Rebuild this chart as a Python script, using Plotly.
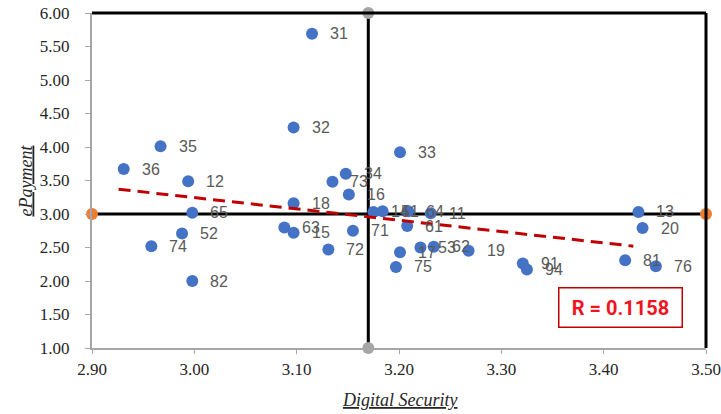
import plotly.graph_objects as go

# Scores per unit: Digital Security (x) vs ePayment (y)
unit_labels = ["31", "32", "33", "35", "36", "12", "73", "34", "16", "18",
               "65", "52", "74", "82", "63", "15", "71", "72", "14", "51",
               "64", "11", "61", "17", "75", "53", "62", "19", "91", "94",
               "81", "76", "13", "20"]
digital_security = [3.115, 3.097, 3.201, 2.967, 2.931, 2.994, 3.135, 3.148, 3.151, 3.097,
                    2.998, 2.988, 2.958, 2.998, 3.088, 3.097, 3.155, 3.131, 3.175, 3.184,
                    3.209, 3.231, 3.208, 3.201, 3.197, 3.221, 3.234, 3.268, 3.321, 3.325,
                    3.421, 3.451, 3.434, 3.438]
epayment = [5.69, 4.29, 3.92, 4.01, 3.67, 3.49, 3.48, 3.60, 3.29, 3.16,
            3.02, 2.71, 2.52, 2.00, 2.80, 2.72, 2.75, 2.47, 3.03, 3.04,
            3.04, 3.01, 2.82, 2.43, 2.21, 2.50, 2.51, 2.45, 2.26, 2.17,
            2.31, 2.22, 3.03, 2.79]

# Quadrant split (means)
mean_x = 3.17
mean_y = 3.00
x_range = [2.90, 3.50]
y_range = [1.00, 6.00]

# Linear trend end points
trend_x = [2.926, 3.429]
trend_y = [3.37, 2.52]

r_text = "R = 0.1158"

fig = go.Figure()

# Quadrant lines with end markers
fig.add_trace(go.Scatter(
    x=x_range, y=[mean_y, mean_y], mode="lines+markers",
    line=dict(color="black", width=3),
    marker=dict(color="#ED7D31", size=12),
    cliponaxis=False, hoverinfo="skip", showlegend=False))
fig.add_trace(go.Scatter(
    x=[mean_x, mean_x], y=y_range, mode="lines+markers",
    line=dict(color="black", width=3),
    marker=dict(color="#A5A5A5", size=12),
    cliponaxis=False, hoverinfo="skip", showlegend=False))

# Units
fig.add_trace(go.Scatter(
    x=digital_security, y=epayment, mode="markers",
    marker=dict(color="#4472C4", size=12),
    text=unit_labels, showlegend=False))

# Trend line
fig.add_trace(go.Scatter(
    x=trend_x, y=trend_y, mode="lines",
    line=dict(color="#C00000", width=3, dash="12px,7px"),
    hoverinfo="skip", showlegend=False))

annotations = []
for lab, xv, yv in zip(unit_labels, digital_security, epayment):
    annotations.append(dict(
        x=xv, y=yv, xref="x", yref="y", text=lab, showarrow=False,
        xanchor="left", yanchor="middle", xshift=16, yshift=0,
        font=dict(family="Liberation Sans", size=16, color="#595959")))

# Axis titles
annotations.append(dict(
    x=0.5, y=0, xref="paper", yref="paper", text="Digital Security",
    showarrow=False, xanchor="center", yanchor="middle", yshift=-52,
    font=dict(family="Liberation Serif", size=18, color="#262626",
              style="italic", lineposition="under")))
annotations.append(dict(
    x=0, y=0.5, xref="paper", yref="paper", text="ePayment",
    showarrow=False, xanchor="center", yanchor="middle", xshift=-67,
    textangle=-90,
    font=dict(family="Liberation Serif", size=18, color="#262626",
              style="italic", lineposition="under")))

# Correlation box
annotations.append(dict(
    x=3.416, y=1.61, xref="x", yref="y", text="<b>" + r_text + "</b>",
    showarrow=False, xanchor="center", yanchor="middle",
    width=120, height=36, bgcolor="white",
    bordercolor="#C00000", borderwidth=1.5, borderpad=1,
    font=dict(family="Roboto", size=20, color="#F0141E")))

fig.update_layout(
    width=721, height=414,
    margin=dict(l=92, r=15, t=13, b=66),
    paper_bgcolor="white", plot_bgcolor="white",
    annotations=annotations,
    shapes=[
        dict(type="line", xref="paper", yref="paper", x0=0, x1=1, y0=1, y1=1,
             line=dict(color="black", width=3)),
        dict(type="line", xref="paper", yref="paper", x0=1, x1=1, y0=0, y1=1,
             line=dict(color="black", width=3)),
    ],
)

fig.update_xaxes(
    range=x_range, dtick=0.1, tick0=2.9, tickformat=".2f",
    automargin=False,
    showgrid=False, zeroline=False,
    showline=True, linecolor="#A6A6A6", linewidth=2,
    ticks="outside", ticklen=4, tickcolor="#A6A6A6", tickwidth=1,
    ticklabelstandoff=1,
    tickfont=dict(family="Liberation Serif", size=17, color="#262626"))
fig.update_yaxes(
    range=y_range, dtick=0.5, tick0=1.0, tickformat=".2f",
    automargin=False,
    showgrid=False, zeroline=False,
    showline=True, linecolor="#A6A6A6", linewidth=2,
    ticks="outside", ticklen=5, tickcolor="#A6A6A6", tickwidth=1,
    ticklabelstandoff=12,
    tickfont=dict(family="Liberation Serif", size=17, color="#262626"))

fig.write_html("out.html")
